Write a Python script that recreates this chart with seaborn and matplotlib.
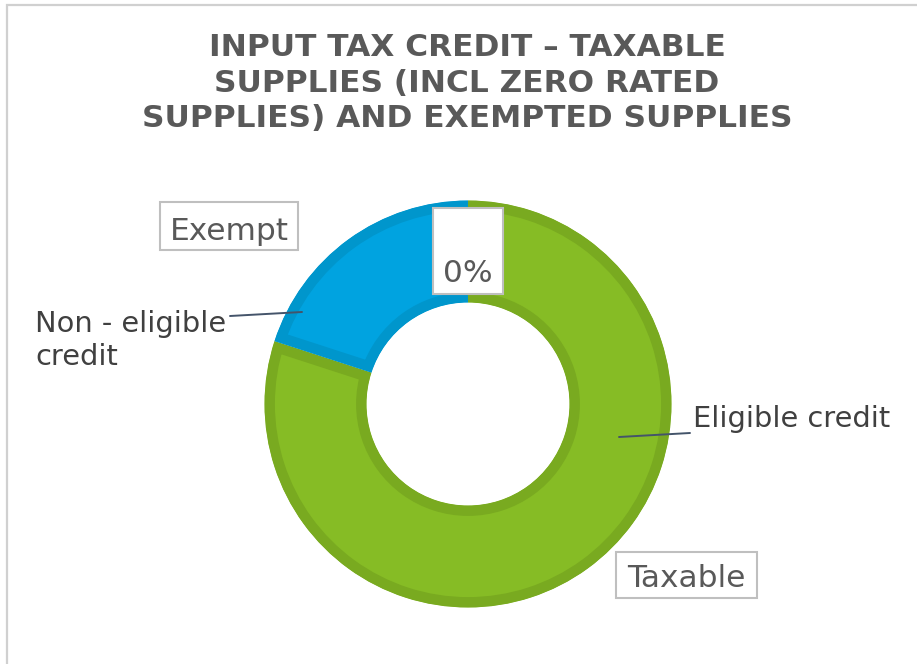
import matplotlib
matplotlib.use("Agg")
import matplotlib.pyplot as plt
import seaborn as sns
from matplotlib.patches import Rectangle

# chart data
supplies = ["Taxable", "Exempt"]
shares = [80, 20]
credit_labels = ["Eligible credit", "Non - eligible\ncredit"]
zero_label = "0%"
title = "INPUT TAX CREDIT – TAXABLE\nSUPPLIES (INCL ZERO RATED\nSUPPLIES) AND EXEMPTED SUPPLIES"

sns.set_theme(style="white")
plt.rcParams["font.family"] = ["DejaVu Sans"]

fill = sns.color_palette(["#86BC25", "#00A3E0"])
edge = sns.color_palette(["#79AA20", "#0096CC"])

W, H = 917, 664
fig = plt.figure(figsize=(W / 100, H / 100), dpi=100)
ax = fig.add_axes([0, 0, 1, 1])


def py(y):
    # pixel row (from top) -> data y
    return H - y


cx, cy, R = 468, py(404), 203.5
wedges, _ = ax.pie(shares, colors=fill, startangle=90, counterclock=False,
                   radius=R, center=(cx, cy),
                   wedgeprops=dict(width=102, linewidth=15))

ax.set_xlim(0, W)
ax.set_ylim(0, H)
ax.set_aspect("equal")
ax.axis("off")

for w, c in zip(wedges, edge):
    w.set_edgecolor(c)
    # keep the stroke inside its own wedge
    w.set_clip_on(True)
    w.set_clip_path(w)

# outer frame
ax.add_patch(Rectangle((7, -10), W, py(5) + 10, fill=False,
                       edgecolor="#D0D0D0", linewidth=1.6, clip_on=False))

# title
for i, line in enumerate(title.split("\n")):
    ax.text(467, py(56 + 35.5 * i), line, ha="center", va="baseline",
            fontsize=22.5, fontweight="bold", color="#595959")

# boxed category labels
boxes = {"Exempt": (160, 202, 298, 250, 240),
         "Taxable": (616, 552, 757, 598, 587)}
for name in supplies:
    x0, y0, x1, y1, base = boxes[name]
    ax.add_patch(Rectangle((x0, py(y1)), x1 - x0, y1 - y0, facecolor="white",
                           edgecolor="#BFBFBF", linewidth=1.5, zorder=3))
    ax.text((x0 + x1) / 2, py(base), name, ha="center", va="baseline",
            fontsize=22.5, color="#595959", zorder=4)

ax.add_patch(Rectangle((433, py(294)), 70, 86, facecolor="white",
                       edgecolor="#BFBFBF", linewidth=1.5, zorder=3))
ax.text(468, py(282), zero_label, ha="center", va="baseline",
        fontsize=22.5, color="#595959", zorder=4)

# credit data labels with leader lines
lead = "#44546A"
ax.plot([619, 690], [py(437), py(433)], color=lead, linewidth=1.4, zorder=3)
ax.text(693, py(427), credit_labels[0], ha="left", va="baseline",
        fontsize=20.8, color="#404040")

ax.plot([230, 302], [py(316), py(312)], color=lead, linewidth=1.4, zorder=3)
for i, line in enumerate(credit_labels[1].split("\n")):
    ax.text(35, py(332 + 33 * i), line, ha="left", va="baseline",
            fontsize=20.8, color="#404040")

fig.savefig("out.png", dpi=100)
